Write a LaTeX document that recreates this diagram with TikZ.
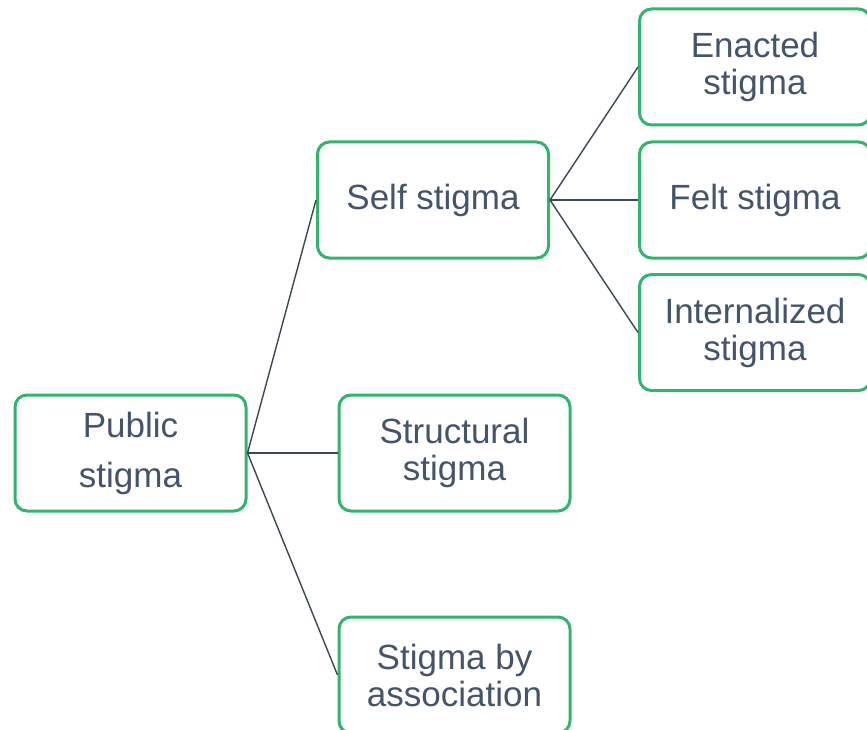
\documentclass[tikz,border=0pt]{standalone}
\usepackage{fontspec}
\setmainfont{Liberation Sans}
\definecolor{boxgreen}{HTML}{33B36E}
\definecolor{txtcol}{HTML}{44546A}
\definecolor{linecol}{HTML}{3B4656}
\begin{document}
\begin{tikzpicture}[x=1pt,y=-1pt,
  box/.style={draw=boxgreen, line width=3pt, rounded corners=12pt, fill=white,
    minimum width=231pt, minimum height=116pt, inner sep=0pt, align=center,
    text=txtcol, font=\fontsize{35}{37}\selectfont},
  conn/.style={draw=linecol, line width=1.4pt}]
\useasboundingbox (0,0) rectangle (867,730);
\node[box, font=\fontsize{35}{50}\selectfont] (pub) at (130.5,453) {Public\\stigma};
\node[box] (self) at (433,200) {Self stigma};
\node[box] (struct) at (454.5,453) {Structural\\stigma};
\node[box] (assoc) at (454.5,675) {Stigma by\\association};
\node[box] (enact) at (755,67) {Enacted\\stigma};
\node[box] (felt) at (755,200) {Felt stigma};
\node[box] (intern) at (755,332.5) {Internalized\\stigma};
\draw[conn] (pub.east) -- (self.west);
\draw[conn] (pub.east) -- (struct.west);
\draw[conn] (pub.east) -- (assoc.west);
\draw[conn] (self.east) -- (enact.west);
\draw[conn] (self.east) -- (felt.west);
\draw[conn] (self.east) -- (intern.west);
\end{tikzpicture}
\end{document}
